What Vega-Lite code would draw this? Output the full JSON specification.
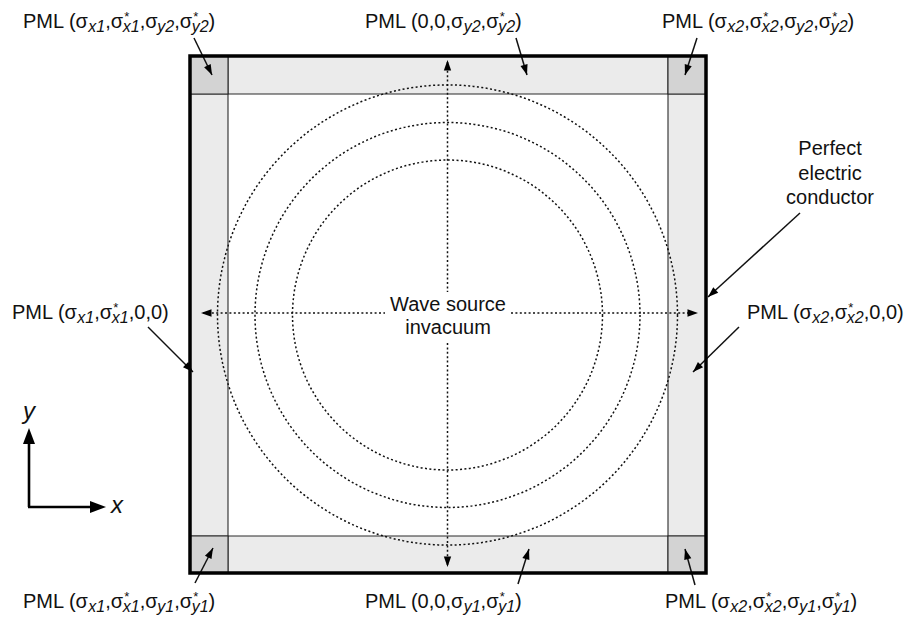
{
  "$schema": "https://vega.github.io/schema/vega-lite/v6.json",
  "width": 915,
  "height": 627,
  "padding": 0,
  "autosize": {"type": "none"},
  "background": "white",
  "config": {"view": {"stroke": null}},
  "datasets": {
    "rects": [
      {"x": 228, "x2": 668, "y": 56, "y2": 94, "kind": "strip"},
      {"x": 228, "x2": 668, "y": 536, "y2": 573, "kind": "strip"},
      {"x": 190, "x2": 228, "y": 94, "y2": 536, "kind": "strip"},
      {"x": 668, "x2": 706, "y": 94, "y2": 536, "kind": "strip"},
      {"x": 190, "x2": 228, "y": 56, "y2": 94, "kind": "corner"},
      {"x": 668, "x2": 706, "y": 56, "y2": 94, "kind": "corner"},
      {"x": 190, "x2": 228, "y": 536, "y2": 573, "kind": "corner"},
      {"x": 668, "x2": 706, "y": 536, "y2": 573, "kind": "corner"}
    ],
    "frame": [{"x": 190, "x2": 706, "y": 56, "y2": 573}],
    "circles": [
      {"cx": 447.5, "cy": 315, "r": 230},
      {"cx": 447.5, "cy": 315, "r": 192.5},
      {"cx": 447.5, "cy": 315, "r": 155}
    ],
    "lines": [
      {"x": 447.5, "y": 62, "x2": 447.5, "y2": 292, "kind": "dash"},
      {"x": 447.5, "y": 343, "x2": 447.5, "y2": 565, "kind": "dash"},
      {"x": 203, "y": 313, "x2": 385, "y2": 313, "kind": "dash"},
      {"x": 511, "y": 313, "x2": 696, "y2": 313, "kind": "dash"},
      {"x": 194, "y": 38, "x2": 212, "y2": 75, "kind": "solid"},
      {"x": 516, "y": 38, "x2": 527, "y2": 75, "kind": "solid"},
      {"x": 697, "y": 38, "x2": 685, "y2": 75, "kind": "solid"},
      {"x": 148, "y": 327, "x2": 193, "y2": 372, "kind": "solid"},
      {"x": 739, "y": 327, "x2": 693, "y2": 372, "kind": "solid"},
      {"x": 800, "y": 213, "x2": 708, "y2": 297, "kind": "solid"},
      {"x": 195, "y": 583, "x2": 213, "y2": 548, "kind": "solid"},
      {"x": 518, "y": 584, "x2": 529, "y2": 549, "kind": "solid"},
      {"x": 695, "y": 585, "x2": 685, "y2": 549, "kind": "solid"},
      {"x": 29, "y": 507, "x2": 29, "y2": 434, "kind": "thick"},
      {"x": 28, "y": 507, "x2": 100, "y2": 507, "kind": "thick"}
    ],
    "heads": [
      {"x": 447.5, "y": 60, "angle": 0, "kind": "small"},
      {"x": 447.5, "y": 567, "angle": 180, "kind": "small"},
      {"x": 201, "y": 313, "angle": 270, "kind": "small"},
      {"x": 698, "y": 313, "angle": 90, "kind": "small"},
      {"x": 212, "y": 75, "angle": 154.1, "kind": "small"},
      {"x": 527, "y": 75, "angle": 163.4, "kind": "small"},
      {"x": 685, "y": 75, "angle": 198, "kind": "small"},
      {"x": 193, "y": 372, "angle": 135, "kind": "small"},
      {"x": 693, "y": 372, "angle": 225.6, "kind": "small"},
      {"x": 708, "y": 297, "angle": 227.6, "kind": "small"},
      {"x": 213, "y": 548, "angle": 27.2, "kind": "small"},
      {"x": 529, "y": 549, "angle": 17.4, "kind": "small"},
      {"x": 685, "y": 549, "angle": 344.5, "kind": "small"},
      {"x": 29, "y": 428, "angle": 0, "kind": "large"},
      {"x": 106, "y": 507, "angle": 90, "kind": "large"}
    ],
    "texts": [
      {"x": 23, "y": 28, "t": "PML (σ", "role": "main"},
      {"x": 88.3, "y": 32, "t": "x1", "role": "sub"},
      {"x": 105.2, "y": 28, "t": ",σ", "role": "main"},
      {"x": 124.3, "y": 21, "t": "*", "role": "sup"},
      {"x": 122.8, "y": 32, "t": "x1", "role": "sub"},
      {"x": 139.7, "y": 28, "t": ",σ", "role": "main"},
      {"x": 157.3, "y": 32, "t": "y2", "role": "sub"},
      {"x": 174.2, "y": 28, "t": ",σ", "role": "main"},
      {"x": 193.2, "y": 21, "t": "*", "role": "sup"},
      {"x": 191.7, "y": 32, "t": "y2", "role": "sub"},
      {"x": 208.6, "y": 28, "t": ")", "role": "main"},

      {"x": 662, "y": 28, "t": "PML (σ", "role": "main"},
      {"x": 727.3, "y": 32, "t": "x2", "role": "sub"},
      {"x": 744.2, "y": 28, "t": ",σ", "role": "main"},
      {"x": 763.3, "y": 21, "t": "*", "role": "sup"},
      {"x": 761.8, "y": 32, "t": "x2", "role": "sub"},
      {"x": 778.7, "y": 28, "t": ",σ", "role": "main"},
      {"x": 796.3, "y": 32, "t": "y2", "role": "sub"},
      {"x": 813.2, "y": 28, "t": ",σ", "role": "main"},
      {"x": 832.2, "y": 21, "t": "*", "role": "sup"},
      {"x": 830.7, "y": 32, "t": "y2", "role": "sub"},
      {"x": 847.6, "y": 28, "t": ")", "role": "main"},

      {"x": 365, "y": 28, "t": "PML (0,0,σ", "role": "main"},
      {"x": 463.7, "y": 32, "t": "y2", "role": "sub"},
      {"x": 480.6, "y": 28, "t": ",σ", "role": "main"},
      {"x": 499.7, "y": 21, "t": "*", "role": "sup"},
      {"x": 498.2, "y": 32, "t": "y2", "role": "sub"},
      {"x": 515.1, "y": 28, "t": ")", "role": "main"},

      {"x": 23, "y": 608, "t": "PML (σ", "role": "main"},
      {"x": 88.3, "y": 612, "t": "x1", "role": "sub"},
      {"x": 105.2, "y": 608, "t": ",σ", "role": "main"},
      {"x": 124.3, "y": 601, "t": "*", "role": "sup"},
      {"x": 122.8, "y": 612, "t": "x1", "role": "sub"},
      {"x": 139.7, "y": 608, "t": ",σ", "role": "main"},
      {"x": 157.3, "y": 612, "t": "y1", "role": "sub"},
      {"x": 174.2, "y": 608, "t": ",σ", "role": "main"},
      {"x": 193.2, "y": 601, "t": "*", "role": "sup"},
      {"x": 191.7, "y": 612, "t": "y1", "role": "sub"},
      {"x": 208.6, "y": 608, "t": ")", "role": "main"},

      {"x": 665, "y": 608, "t": "PML (σ", "role": "main"},
      {"x": 730.3, "y": 612, "t": "x2", "role": "sub"},
      {"x": 747.2, "y": 608, "t": ",σ", "role": "main"},
      {"x": 766.3, "y": 601, "t": "*", "role": "sup"},
      {"x": 764.8, "y": 612, "t": "x2", "role": "sub"},
      {"x": 781.7, "y": 608, "t": ",σ", "role": "main"},
      {"x": 799.3, "y": 612, "t": "y1", "role": "sub"},
      {"x": 816.2, "y": 608, "t": ",σ", "role": "main"},
      {"x": 835.2, "y": 601, "t": "*", "role": "sup"},
      {"x": 833.7, "y": 612, "t": "y1", "role": "sub"},
      {"x": 850.6, "y": 608, "t": ")", "role": "main"},

      {"x": 365, "y": 608, "t": "PML (0,0,σ", "role": "main"},
      {"x": 463.7, "y": 612, "t": "y1", "role": "sub"},
      {"x": 480.6, "y": 608, "t": ",σ", "role": "main"},
      {"x": 499.7, "y": 601, "t": "*", "role": "sup"},
      {"x": 498.2, "y": 612, "t": "y1", "role": "sub"},
      {"x": 515.1, "y": 608, "t": ")", "role": "main"},

      {"x": 12, "y": 319, "t": "PML (σ", "role": "main"},
      {"x": 77.3, "y": 323, "t": "x1", "role": "sub"},
      {"x": 94.2, "y": 319, "t": ",σ", "role": "main"},
      {"x": 113.3, "y": 312, "t": "*", "role": "sup"},
      {"x": 111.8, "y": 323, "t": "x1", "role": "sub"},
      {"x": 128.7, "y": 319, "t": ",0,0)", "role": "main"},

      {"x": 747, "y": 319, "t": "PML (σ", "role": "main"},
      {"x": 812.3, "y": 323, "t": "x2", "role": "sub"},
      {"x": 829.2, "y": 319, "t": ",σ", "role": "main"},
      {"x": 848.3, "y": 312, "t": "*", "role": "sup"},
      {"x": 846.8, "y": 323, "t": "x2", "role": "sub"},
      {"x": 863.7, "y": 319, "t": ",0,0)", "role": "main"},

      {"x": 830, "y": 155, "t": "Perfect", "role": "center"},
      {"x": 830, "y": 180, "t": "electric", "role": "center"},
      {"x": 830, "y": 204, "t": "conductor", "role": "center"},
      {"x": 448, "y": 311, "t": "Wave source", "role": "center"},
      {"x": 448, "y": 334, "t": "invacuum", "role": "center"},
      {"x": 29, "y": 419, "t": "y", "role": "axis"},
      {"x": 117, "y": 513, "t": "x", "role": "axis"}
    ]
  },
  "encoding": {
    "x": {"field": "x", "type": "quantitative", "scale": {"domain": [0, 915], "nice": false, "zero": false}, "axis": null},
    "y": {"field": "y", "type": "quantitative", "scale": {"domain": [0, 627], "nice": false, "zero": false, "reverse": true}, "axis": null}
  },
  "layer": [
    {
      "data": {"name": "rects"},
      "mark": {"type": "rect", "stroke": "#2a2a2a", "strokeWidth": 1.1},
      "encoding": {
        "x2": {"field": "x2"},
        "y2": {"field": "y2"},
        "color": {"field": "kind", "type": "nominal", "scale": {"domain": ["strip", "corner"], "range": ["#ebebeb", "#d3d3d3"]}, "legend": null}
      }
    },
    {
      "data": {"name": "circles"},
      "mark": {"type": "point", "shape": "circle", "filled": false, "stroke": "#111", "strokeWidth": 1.5, "strokeDash": [2, 2.4], "opacity": 1},
      "encoding": {
        "x": {"field": "cx", "type": "quantitative"},
        "y": {"field": "cy", "type": "quantitative"},
        "size": {"field": "r", "type": "quantitative", "scale": {"type": "pow", "exponent": 2, "domain": [0, 230], "range": [0, 211600]}, "legend": null}
      }
    },
    {
      "data": {"name": "lines"},
      "transform": [{"filter": "datum.kind == 'dash'"}],
      "mark": {"type": "rule", "color": "#111", "strokeWidth": 1.5, "strokeDash": [2, 2.4]},
      "encoding": {"x2": {"field": "x2"}, "y2": {"field": "y2"}}
    },
    {
      "data": {"name": "lines"},
      "transform": [{"filter": "datum.kind == 'solid'"}],
      "mark": {"type": "rule", "color": "#111", "strokeWidth": 1.5},
      "encoding": {"x2": {"field": "x2"}, "y2": {"field": "y2"}}
    },
    {
      "data": {"name": "lines"},
      "transform": [{"filter": "datum.kind == 'thick'"}],
      "mark": {"type": "rule", "color": "#000", "strokeWidth": 2.6},
      "encoding": {"x2": {"field": "x2"}, "y2": {"field": "y2"}}
    },
    {
      "data": {"name": "frame"},
      "mark": {"type": "rect", "fill": null, "fillOpacity": 0, "stroke": "#000", "strokeWidth": 3.5},
      "encoding": {"x2": {"field": "x2"}, "y2": {"field": "y2"}}
    },
    {
      "data": {"name": "heads"},
      "transform": [{"filter": "datum.kind == 'small'"}],
      "mark": {"type": "point", "shape": "M0,0L-0.7,2L0.7,2Z", "filled": true, "color": "#000", "opacity": 1, "size": 110},
      "encoding": {"angle": {"field": "angle", "type": "quantitative", "scale": null}}
    },
    {
      "data": {"name": "heads"},
      "transform": [{"filter": "datum.kind == 'large'"}],
      "mark": {"type": "point", "shape": "M0,0L-0.75,2L0.75,2Z", "filled": true, "color": "#000", "opacity": 1, "size": 256},
      "encoding": {"angle": {"field": "angle", "type": "quantitative", "scale": null}}
    },
    {
      "data": {"name": "texts"},
      "transform": [{"filter": "datum.role == 'main'"}],
      "mark": {"type": "text", "font": "Liberation Sans", "fontSize": 20, "align": "left", "baseline": "alphabetic", "color": "#111"},
      "encoding": {"text": {"field": "t"}}
    },
    {
      "data": {"name": "texts"},
      "transform": [{"filter": "datum.role == 'sub'"}],
      "mark": {"type": "text", "font": "Liberation Sans", "fontSize": 16, "fontStyle": "italic", "align": "left", "baseline": "alphabetic", "color": "#111"},
      "encoding": {"text": {"field": "t"}}
    },
    {
      "data": {"name": "texts"},
      "transform": [{"filter": "datum.role == 'sup'"}],
      "mark": {"type": "text", "font": "Liberation Sans", "fontSize": 13, "align": "left", "baseline": "alphabetic", "color": "#111"},
      "encoding": {"text": {"field": "t"}}
    },
    {
      "data": {"name": "texts"},
      "transform": [{"filter": "datum.role == 'center'"}],
      "mark": {"type": "text", "font": "Liberation Sans", "fontSize": 20, "align": "center", "baseline": "alphabetic", "color": "#111"},
      "encoding": {"text": {"field": "t"}}
    },
    {
      "data": {"name": "texts"},
      "transform": [{"filter": "datum.role == 'axis'"}],
      "mark": {"type": "text", "font": "Liberation Sans", "fontSize": 24, "fontStyle": "italic", "align": "center", "baseline": "alphabetic", "color": "#111"},
      "encoding": {"text": {"field": "t"}}
    }
  ]
}
